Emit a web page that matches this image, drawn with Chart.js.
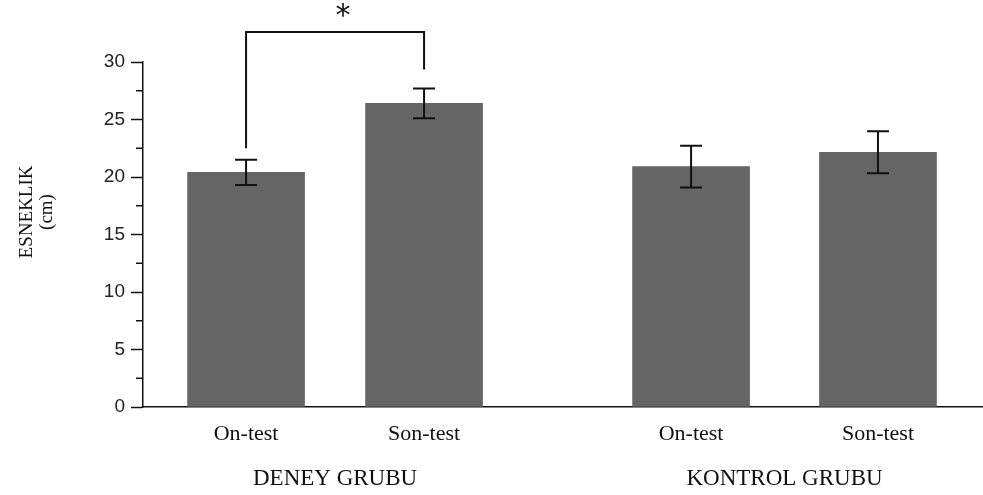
<!DOCTYPE html>
<html>
<head>
<meta charset="utf-8">
<script src="https://cdn.jsdelivr.net/npm/chart.js@4/dist/chart.umd.min.js"></script>
<style>
  body { margin: 0; background: #fff; }
  #wrap { width: 983px; height: 495px; position: relative; }
</style>
</head>
<body>
<div id="wrap"><canvas id="esneklikChart"></canvas></div>
<script>
// --- veriler ---
const xLabels = ['On-test', 'Son-test', 'On-test', 'Son-test'];
const xPositions = [1, 2, 3.5, 4.55];
const means = [20.4, 26.4, 20.9, 22.15];
const errors = [1.1, 1.3, 1.82, 1.82];
const groupLabels = ['DENEY GRUBU', 'KONTROL GRUBU'];
const groupMembers = [[0, 1], [2, 3]];
const yTitle = ['ESNEKLIK', '(cm)'];
// anlamlilik cizgisi: sol bacak alt, ust, sag bacak alt, yildiz
const sigPair = [0, 1];
const sigLevels = [22.5, 32.6, 29.35, 34.3];

const BAR_COLOR = '#656565';
const INK = '#111';

// hata cubuklari, minor tikler, grup etiketleri, anlamlilik isareti
const extras = {
    id: 'extras',
    afterDatasetsDraw(chart) {
        const ctx = chart.ctx;
        const xs = chart.scales.x, ys = chart.scales.y;
        ctx.save();
        ctx.strokeStyle = INK;
        ctx.lineWidth = 2;

        // hata cubuklari
        means.forEach((m, i) => {
            const x = xs.getPixelForValue(xPositions[i]);
            const yT = ys.getPixelForValue(m + errors[i]);
            const yB = ys.getPixelForValue(m - errors[i]);
            ctx.beginPath();
            ctx.moveTo(x, yT); ctx.lineTo(x, yB);
            ctx.moveTo(x - 11, yT); ctx.lineTo(x + 11, yT);
            ctx.moveTo(x - 11, yB); ctx.lineTo(x + 11, yB);
            ctx.stroke();
        });

        // anlamlilik
        const xl = xs.getPixelForValue(xPositions[sigPair[0]]);
        const xr = xs.getPixelForValue(xPositions[sigPair[1]]);
        ctx.beginPath();
        ctx.moveTo(xl, ys.getPixelForValue(sigLevels[0]));
        ctx.lineTo(xl, ys.getPixelForValue(sigLevels[1]));
        ctx.lineTo(xr, ys.getPixelForValue(sigLevels[1]));
        ctx.lineTo(xr, ys.getPixelForValue(sigLevels[2]));
        ctx.stroke();
        ctx.fillStyle = INK;
        ctx.font = '30px "DejaVu Sans", sans-serif';
        ctx.textAlign = 'center';
        ctx.textBaseline = 'middle';
        ctx.fillText('*', (xl + xr) / 2 + 8, ys.getPixelForValue(sigLevels[3]) + 5);

        // minor tikler
        ctx.lineWidth = 1.5;
        const left = chart.chartArea.left;
        ys.ticks.forEach(t => {
            if (t.value % 5 !== 0) {
                const y = ys.getPixelForValue(t.value);
                ctx.beginPath();
                ctx.moveTo(left - 7, y); ctx.lineTo(left, y);
                ctx.stroke();
            }
        });

        // grup etiketleri
        ctx.font = '23px "Liberation Serif", "Times New Roman", serif';
        ctx.textBaseline = 'middle';
        groupLabels.forEach((g, k) => {
            const [a, b] = groupMembers[k];
            const cx = (xs.getPixelForValue(xPositions[a]) + xs.getPixelForValue(xPositions[b])) / 2;
            ctx.fillText(g, cx, 479);
        });

        // y ekseni basligi
        ctx.font = '19px "Liberation Serif", "Times New Roman", serif';
        const yc = 212;
        yTitle.forEach((t, k) => {
            ctx.save();
            ctx.translate(27 + k * 20, yc);
            ctx.rotate(-Math.PI / 2);
            ctx.fillText(t, 0, 0);
            ctx.restore();
        });
        ctx.restore();
    }
};

const ctx = document.getElementById('esneklikChart').getContext('2d');
new Chart(ctx, {
    type: 'bar',
    data: {
        datasets: [{
            data: xPositions.map((p, i) => ({ x: p, y: means[i] })),
            backgroundColor: BAR_COLOR,
            borderWidth: 0,
            barThickness: 117
        }]
    },
    options: {
        responsive: true,
        maintainAspectRatio: false,
        animation: false,
        layout: { padding: { top: 62, right: 0, left: 0, bottom: 0 } },
        plugins: { legend: { display: false }, tooltip: { enabled: false } },
        scales: {
            x: {
                type: 'linear',
                min: 0.421,
                max: 5.14,
                offset: false,
                grid: { display: false, drawTicks: false, offset: false },
                border: { display: true, color: INK, width: 1.5 },
                afterBuildTicks: s => { s.ticks = xPositions.map(v => ({ value: v })); },
                afterFit: s => { s.height = 88; },
                ticks: {
                    autoSkip: false,
                    maxRotation: 0,
                    padding: 14,
                    color: INK,
                    font: { family: '"Liberation Serif", "Times New Roman", serif', size: 22 },
                    callback: (v, i) => xLabels[i]
                }
            },
            y: {
                min: 0,
                max: 30,
                grid: {
                    drawOnChartArea: false,
                    tickLength: 12,
                    tickWidth: 1.5,
                    tickColor: c => (c.tick && c.tick.value % 5 === 0) ? INK : 'rgba(0,0,0,0)'
                },
                border: { display: true, color: INK, width: 1.5 },
                afterFit: s => { s.width = 143; },
                ticks: {
                    stepSize: 2.5,
                    padding: 6,
                    color: '#222',
                    font: { family: '"Liberation Sans", Arial, sans-serif', size: 19 },
                    callback: v => (v % 5 === 0 ? v : '')
                }
            }
        }
    },
    plugins: [extras]
});
</script>
</body>
</html>
